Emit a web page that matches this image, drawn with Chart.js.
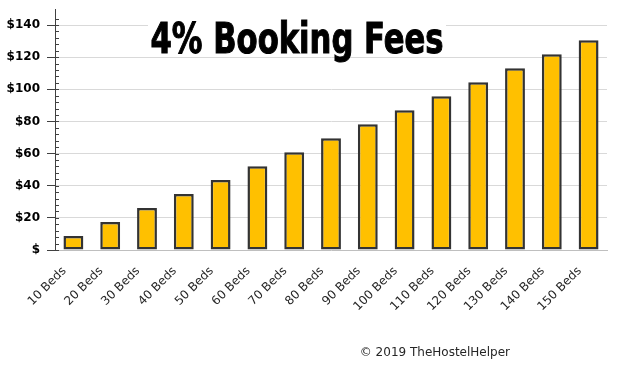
<!DOCTYPE html>
<html>
<head>
<meta charset="utf-8">
<script src="https://cdn.jsdelivr.net/npm/chart.js@4/dist/chart.umd.min.js"></script>
<style>
  html, body { margin: 0; padding: 0; background: #ffffff; }
  #wrap { width: 617px; height: 370px; position: relative; }
</style>
</head>
<body>
<div id="wrap"><canvas id="myChart" width="617" height="370"></canvas></div>
<script>
/*
  • Config
  ---------- ---------- ---------- ---------- ----------
*/

const beds = ['10 Beds', '20 Beds', '30 Beds', '40 Beds', '50 Beds', '60 Beds', '70 Beds', '80 Beds',
  '90 Beds', '100 Beds', '110 Beds', '120 Beds', '130 Beds', '140 Beds', '150 Beds'];
const fees = [8.7, 17.4, 26.1, 34.8, 43.5, 52.2, 60.9, 69.6, 78.3, 87.0, 95.7, 104.4, 113.1, 121.8, 130.5];
const y_max = 150;
const y_major = 20;
const y_minor = 4;
const title_text = '4% Booking Fees';
const footer_text = '\u00A9 2019 TheHostelHelper';

/*
  • Plugins
  ---------- ---------- ---------- ---------- ----------
*/

// little inner ticks on the value axis, every 4 dollars
const minorTicks = {
  id: 'minorTicks',
  afterDraw(chart) {
    const ctx = chart.ctx;
    const y = chart.scales.y;
    const x0 = chart.chartArea.left;
    ctx.save();
    ctx.strokeStyle = '#404040';
    ctx.lineWidth = 1;
    for (let v = 0; v <= y_max - y_minor; v += y_minor) {
      const py = Math.round(y.getPixelForValue(v)) + 0.5;
      ctx.beginPath();
      ctx.moveTo(x0, py);
      ctx.lineTo(x0 + 4, py);
      ctx.stroke();
    }
    ctx.restore();
  }
};

const titleAndFooter = {
  id: 'titleAndFooter',
  afterDraw(chart) {
    const ctx = chart.ctx;
    ctx.save();
    // title box hides the gridline behind it
    ctx.fillStyle = '#ffffff';
    ctx.fillRect(148, 18, 298, 38);

    // no narrow font here, so squeeze a condensed one to the right width
    ctx.font = 'bold 42px "DejaVu Sans Condensed", "DejaVu Sans", sans-serif';
    const w = ctx.measureText(title_text).width;
    const sx = 293 / w;
    ctx.translate(297, 53);
    ctx.scale(sx, 1);
    ctx.fillStyle = '#000000';
    ctx.strokeStyle = '#000000';
    ctx.lineWidth = 1;
    ctx.textAlign = 'center';
    ctx.textBaseline = 'alphabetic';
    ctx.fillText(title_text, 0, 0);
    ctx.strokeText(title_text, 0, 0);
    ctx.setTransform(1, 0, 0, 1, 0, 0);

    ctx.fillStyle = '#262626';
    ctx.textAlign = 'right';
    ctx.textBaseline = 'middle';
    ctx.font = '12px "DejaVu Sans", sans-serif';
    ctx.fillText(footer_text, 510, 353);
    ctx.restore();
  }
};

/*
  • Chart
  ---------- ---------- ---------- ---------- ----------
*/

const data = {
  labels: beds,
  datasets: [{
    label: 'Fees',
    data: fees,
    backgroundColor: '#FFC000',
    borderColor: '#333333',
    borderWidth: 2.5,
    borderSkipped: false,
    barPercentage: 0.54,
    categoryPercentage: 1
  }]
};

const ctx = document.getElementById('myChart').getContext('2d');
new Chart(ctx, {
  type: 'bar',
  data: data,
  plugins: [minorTicks, titleAndFooter],
  options: {
    responsive: false,
    animation: false,
    layout: {
      padding: {top: 9, right: 10, bottom: 0, left: 0}
    },
    plugins: {
      legend: {display: false},
      tooltip: {enabled: false},
      title: {display: false}
    },
    scales: {
      x: {
        afterFit: (scale) => { scale.height = 120; },
        grid: {display: false, drawTicks: false},
        border: {display: true, color: '#bfbfbf', dash: [1, 2], width: 1},
        ticks: {
          autoSkip: false,
          minRotation: 45,
          maxRotation: 45,
          padding: 14,
          labelOffset: -9,
          color: '#262626',
          font: {family: 'DejaVu Sans', size: 12}
        }
      },
      y: {
        min: 0,
        max: y_max,
        afterFit: (scale) => {
          scale.width = 55;
          scale.paddingTop = 0;
          scale.paddingBottom = 0;
        },
        border: {display: true, color: '#404040', width: 1},
        grid: {
          color: (c) => (c.tick.value % y_major === 0 && c.tick.value > 0) ? '#d9d9d9' : 'transparent',
          tickColor: (c) => (c.tick.value % y_major === 0) ? '#404040' : 'transparent',
          tickLength: 8
        },
        ticks: {
          stepSize: y_major,
          padding: 7,
          color: '#000000',
          font: {family: 'DejaVu Sans', size: 12, weight: 'bold'},
          callback: (v) => v % y_major !== 0 ? '' : (v === 0 ? '$' : '$' + v)
        }
      }
    }
  }
});
</script>
</body>
</html>
